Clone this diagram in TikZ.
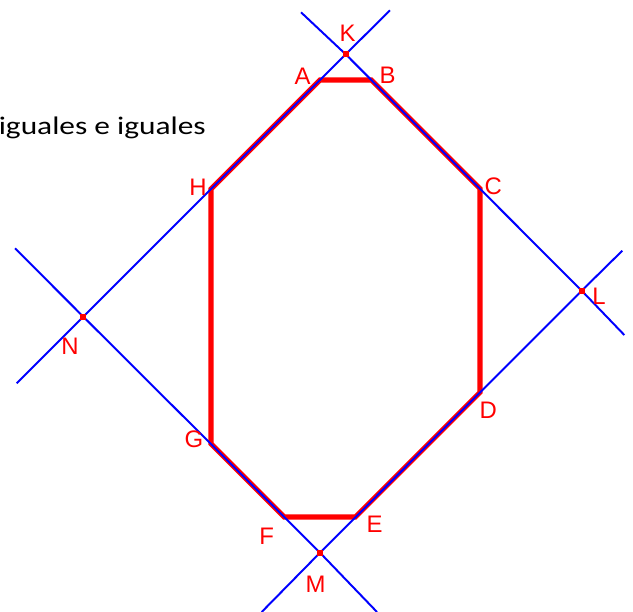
\documentclass[tikz,border=0pt]{standalone}
\usepackage{fontspec}
\newfontfamily\labelfont{Liberation Sans}
\newfontfamily\notefont[FakeStretch=1.24]{Carlito}
\definecolor{geoBlue}{HTML}{0000FF}
\definecolor{geoRed}{HTML}{FF0000}
\tikzset{
  lineBlue/.style={draw=geoBlue, line width=1.4pt},
  sideRed/.style={draw=geoRed, line width=3.6pt, line join=miter},
  dotRed/.style={rectangle, fill=geoRed, minimum size=4pt, inner sep=0pt},
  labelRed/.style={text=geoRed, font=\labelfont\fontsize{17}{17}\selectfont,
                   inner sep=0pt},
  textNote/.style={font=\notefont\fontsize{18}{20}\selectfont, inner sep=0pt},
}

\begin{document}
\begin{tikzpicture}[x=0.025cm, y=-0.025cm]
    \useasboundingbox (0,0) rectangle (633,612);
    % corners of the square of lines
    \coordinate (K) at (345.7,54.3);
    \coordinate (L) at (581.7,290.7);
    \coordinate (M) at (320,552.7);
    \coordinate (N) at (83.3,316.7);
    % octagon
    \coordinate (A) at (320,80);
    \coordinate (B) at (371.4,80);
    \coordinate (C) at (480,188.6);
    \coordinate (D) at (480,392.4);
    \coordinate (E) at (355.4,517);
    \coordinate (F) at (284.3,517);
    \coordinate (G) at (211,443.7);
    \coordinate (H) at (211,189);
    % free ends of the lines
    \coordinate (nkEnd1) at (16.7,383.3);
    \coordinate (nkEnd2) at (390,10.3);
    \coordinate (klEnd1) at (301,12.3);
    \coordinate (klEnd2) at (624.3,335);
    \coordinate (lmEnd1) at (622.3,250.7);
    \coordinate (lmEnd2) at (261.7,612);
    \coordinate (mnEnd1) at (15,248.3);
    \coordinate (mnEnd2) at (377,612);

    \node[textNote, anchor=base west] (note) at (-1.5,134.5) {iguales e iguales};

    \draw[sideRed] (A) -- (B) -- (C) -- (D) -- (E) -- (F) -- (G) -- (H) -- cycle;

    \draw[lineBlue] (nkEnd1) -- (N) -- (K) -- (nkEnd2);
    \draw[lineBlue] (klEnd1) -- (K) -- (L) -- (klEnd2);
    \draw[lineBlue] (lmEnd1) -- (L) -- (M) -- (lmEnd2);
    \draw[lineBlue] (mnEnd1) -- (N) -- (M) -- (mnEnd2);

    \node[dotRed] (dotK) at (K) {};
    \node[dotRed] (dotL) at (L) {};
    \node[dotRed] (dotM) at (M) {};
    \node[dotRed] (dotN) at (N) {};

    \node[labelRed] (labK) at (347.5,33.3) {K};
    \node[labelRed] (labA) at (302.5,76.7) {A};
    \node[labelRed] (labB) at (387.5,75) {B};
    \node[labelRed] (labC) at (493.3,186.7) {C};
    \node[labelRed] (labD) at (488.3,410.5) {D};
    \node[labelRed] (labE) at (374.7,523.8) {E};
    \node[labelRed] (labF) at (266.7,536.3) {F};
    \node[labelRed] (labG) at (194,439) {G};
    \node[labelRed] (labH) at (198,187.5) {H};
    \node[labelRed] (labL) at (599,296.7) {L};
    \node[labelRed] (labM) at (315.5,584.5) {M};
    \node[labelRed] (labN) at (70,346.3) {N};
\end{tikzpicture}
\end{document}
